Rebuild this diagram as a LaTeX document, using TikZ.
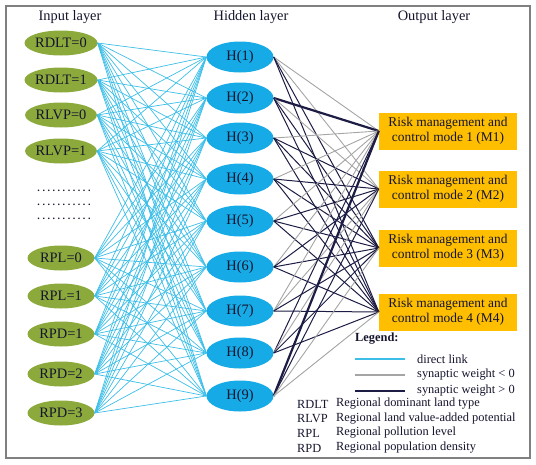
\documentclass[tikz,border=0pt]{standalone}
\usepackage{fontspec}
\setmainfont{Liberation Serif}
\usetikzlibrary{shapes.geometric}
\definecolor{linkblue}{RGB}{60,190,232}
\definecolor{hidblue}{RGB}{22,170,230}
\definecolor{inpgreen}{RGB}{140,170,60}
\definecolor{outgold}{RGB}{255,190,0}
\definecolor{weightgray}{RGB}{165,165,165}
\definecolor{weightnavy}{RGB}{28,28,68}
\definecolor{framegray}{RGB}{128,128,128}
\definecolor{inknavy}{RGB}{20,20,45}
\newcommand\dotrow{\hbox to 56pt{\bfseries\xleaders\hbox to 4.67pt{\hss.\hss}\hfil}}
\tikzset{
	inp/.style={ellipse,fill=inpgreen,minimum width=67pt,minimum height=25pt,inner sep=0pt,text=inknavy,font=\fontsize{14.4}{16}\selectfont},
	hid/.style={ellipse,fill=hidblue,minimum width=67pt,minimum height=31pt,inner sep=0pt,text=inknavy,font=\fontsize{14.4}{16}\selectfont},
	outbox/.style={rectangle,fill=outgold,minimum width=138pt,minimum height=37pt,inner sep=0pt,align=center,text=inknavy,font=\fontsize{13.4}{15}\selectfont},
	layertitle/.style={text=inknavy,font=\fontsize{14.4}{16}\selectfont},
	legtext/.style={anchor=west,inner sep=0pt,text=inknavy,font=\fontsize{12.4}{14}\selectfont},
	link/.style={draw=linkblue,line width=0.7pt},
	lneg/.style={draw=weightgray,line width=0.9pt},
	lpos/.style={draw=weightnavy,line width=1pt},
	lposthick/.style={draw=weightnavy,line width=2.2pt}
}
\begin{document}
\begin{tikzpicture}[x=1pt,y=-1pt]
	\useasboundingbox (0,0) rectangle (536,464);
	\draw[framegray,line width=1.5pt] (6,6) rectangle (530,458);
	
	\node[layertitle] (tin) at (70,17) {Input layer};
	\node[layertitle] (thid) at (251,17) {Hidden layer};
	\node[layertitle] (tout) at (434,17) {Output layer};
	
	% input layer
	\foreach \i/\lab/\y in {1/RDLT=0/43,2/RDLT=1/80,3/RLVP=0/115,4/RLVP=1/151,5/RPL=0/258,6/RPL=1/296,7/RPD=1/334,8/RPD=2/374,9/RPD=3/413}
		\node[inp] (in\i) at (61,\y) {\lab};
	\node[inner sep=0pt,text=inknavy] (dots1) at (64,191) {\dotrow};
	\node[inner sep=0pt,text=inknavy] (dots2) at (64,205) {\dotrow};
	\node[inner sep=0pt,text=inknavy] (dots3) at (64,219) {\dotrow};
	
	% hidden layer
	\foreach \h/\y in {1/57,2/98,3/138,4/179,5/221,6/267,7/311,8/353,9/396}
		\node[hid] (h\h) at (240,\y) {H(\h)};
	
	% output layer
	\foreach \m/\y in {1/131,2/189,3/248,4/312}
		\node[outbox] (m\m) at (448,\y) {Risk management and\\control mode \m{} (M\m)};
	
	\foreach \i in {1,...,9}
		\foreach \h in {1,...,9}
			\draw[link] (in\i.east) -- (h\h.west);
	\foreach \h/\a/\b/\c/\d in {1/lneg/lneg/lpos/lpos,2/lposthick/lneg/lpos/lpos,3/lneg/lpos/lpos/lpos,4/lneg/lpos/lpos/lpos,5/lneg/lpos/lpos/lpos,6/lneg/lpos/lpos/lpos,7/lneg/lneg/lpos/lpos,8/lpos/lneg/lpos/lpos,9/lposthick/lpos/lneg/lneg}{
		\draw[style=\a] (h\h.east) -- (m1.west);
		\draw[style=\b] (h\h.east) -- (m2.west);
		\draw[style=\c] (h\h.east) -- (m3.west);
		\draw[style=\d] (h\h.east) -- (m4.west);
	}
	
	% legend
	\node[legtext,font=\fontsize{12.4}{14}\selectfont\bfseries] (leg) at (355,339) {Legend:};
	\coordinate (ka1) at (355,359); \coordinate (kb1) at (405,359);
	\coordinate (ka2) at (355,375); \coordinate (kb2) at (405,375);
	\coordinate (ka3) at (355,391); \coordinate (kb3) at (405,391);
	\draw[link,line width=1.1pt] (ka1) -- (kb1);
	\draw[lneg,line width=1.4pt] (ka2) -- (kb2);
	\draw[lposthick,line width=2.6pt] (ka3) -- (kb3);
	\node[legtext] (k1) at (417,359) {direct link};
	\node[legtext] (k2) at (417,375) {synaptic weight < 0};
	\node[legtext] (k3) at (417,391) {synaptic weight > 0};
	
	\foreach \r/\ab/\txt/\y in {1/RDLT/Regional dominant land type/404,2/RLVP/Regional land value-added potential/419,3/RPL/Regional pollution level/433,4/RPD/Regional population density/448}{
		\node[legtext] (ab\r) at (297,\y) {\ab};
		\node[legtext] (de\r) at (336,\y) {\txt};
	}
\end{tikzpicture}
\end{document}
